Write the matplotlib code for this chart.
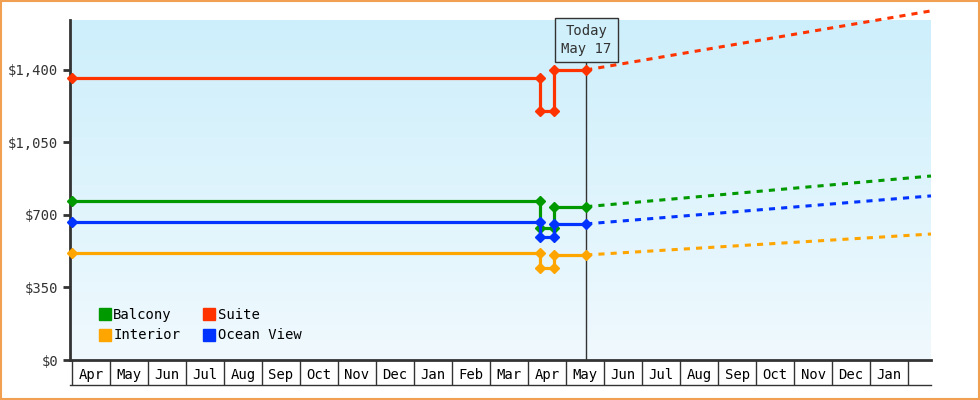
import numpy as np
import matplotlib.pyplot as plt
from matplotlib.transforms import blended_transform_factory
from matplotlib.lines import Line2D
from matplotlib.colors import LinearSegmentedColormap

plt.rcParams['font.family'] = ['DejaVu Sans Mono']

months = ['Apr', 'May', 'Jun', 'Jul', 'Aug', 'Sep', 'Oct', 'Nov', 'Dec', 'Jan', 'Feb', 'Mar',
          'Apr', 'May', 'Jun', 'Jul', 'Aug', 'Sep', 'Oct', 'Nov', 'Dec', 'Jan']
today_x = 13.53
x_hist = [0, 12.32, 12.32, 12.68, 12.68, today_x]
x_fore = [today_x, 22.6]

names = ['Suite', 'Balcony', 'Ocean View', 'Interior']
colors = {'Suite': '#ff3300', 'Balcony': '#009900', 'Ocean View': '#0033ff', 'Interior': '#ffa500'}
hist = {
    'Suite':      [1360, 1360, 1200, 1200, 1400, 1400],
    'Balcony':    [768, 768, 637, 637, 740, 740],
    'Ocean View': [666, 666, 594, 594, 657, 657],
    'Interior':   [517, 517, 444, 444, 507, 507],
}
fore = {
    'Suite':      [1400, 1685],
    'Balcony':    [740, 888],
    'Ocean View': [657, 792],
    'Interior':   [507, 608],
}

fig = plt.figure(figsize=(9.8, 4), dpi=100)
fig.patch.set_facecolor('white')
fig.patches.append(plt.Rectangle((0.001, 0.002), 0.998, 0.996, transform=fig.transFigure,
                                 fill=False, edgecolor='#f0a050', linewidth=1.5))
ax = fig.add_axes([70 / 980, 40 / 400, 861 / 980, 340 / 400])
xmin, xmax, ymin, ymax = -0.05, 22.6, 0, 1641
ax.set_xlim(xmin, xmax)
ax.set_ylim(ymin, ymax)

grad = np.linspace(0, 1, 256).reshape(-1, 1)
cmap = LinearSegmentedColormap.from_list('bg', ['#cdeffb', '#f0f9fe'])
ax.imshow(grad, extent=[xmin, xmax, ymin, ymax], aspect='auto', cmap=cmap, zorder=0, origin='upper')

for n in names:
    c = colors[n]
    ax.plot(x_hist, hist[n], color=c, lw=2.3, marker='D', ms=5.5, zorder=3, clip_on=False)
    ax.plot(x_fore, fore[n], color=c, lw=2.2, ls=(0, (2, 2)), zorder=3, clip_on=False)

ax.axvline(today_x, ymax=1540 / ymax, color='#333333', lw=1, zorder=2)
ax.text(today_x, 1545, 'Today\nMay 17', ha='center', va='center', fontsize=10, color='#333333',
        linespacing=1.3, zorder=4,
        bbox=dict(boxstyle='square,pad=0.45', facecolor='#d0f0fb', edgecolor='#333333', lw=1))

ax.set_yticks([0, 350, 700, 1050, 1400])
ax.set_yticklabels(['$0', '$350', '$700', '$1,050', '$1,400'], fontsize=10, color='#333333')
ax.tick_params(axis='y', length=5, width=2, color='#333333')

bounds = np.arange(0, 23)
ax.set_xticks(bounds)
ax.set_xticklabels([])
ax.tick_params(axis='x', length=18, width=1, color='#333333', direction='out')
ax.set_xticks(np.arange(len(months)) + 0.5, minor=True)
ax.set_xticklabels(months, minor=True, fontsize=10)
ax.tick_params(axis='x', which='minor', length=0, pad=6)
tr = blended_transform_factory(ax.transAxes, ax.transAxes)
ax.plot([0, 1], [-25 / 340, -25 / 340], transform=tr, color='#333333', lw=1, clip_on=False)

for s in ['top', 'right']:
    ax.spines[s].set_visible(False)
for s in ['left', 'bottom']:
    ax.spines[s].set_linewidth(2)
    ax.spines[s].set_color('#333333')

labels = ['Balcony', 'Interior', 'Suite', 'Ocean View']
handles = [Line2D([], [], marker='s', ls='', color=colors[n], ms=9) for n in labels]
ax.legend(handles, labels, ncol=2, loc='lower left',
          bbox_to_anchor=(0.018, 0.015), frameon=False, handletextpad=0.1, columnspacing=1.6,
          labelspacing=0.45, fontsize=10, handlelength=1.0)

fig.savefig('out.png', dpi=100)
